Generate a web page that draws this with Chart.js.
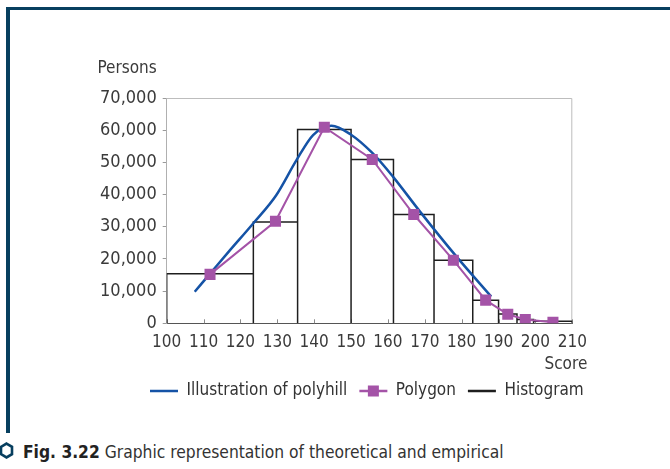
<!DOCTYPE html>
<html>
<head>
<meta charset="utf-8">
<script src="https://cdn.jsdelivr.net/npm/chart.js@4.4.1/dist/chart.umd.min.js"></script>
<style>
  html, body { margin: 0; padding: 0; background: #fff; width: 670px; height: 469px; overflow: hidden; }
  #frameTop { position: absolute; left: 6px; top: 7px; width: 664px; height: 3px; background: #073f5f; }
  #frameLeft { position: absolute; left: 6px; top: 7px; width: 4px; height: 426px; background: #073f5f; }
  #chartBox { position: absolute; left: 0; top: 0; }
  #hex { position: absolute; left: 0; top: 442px; }
  .caption { position: absolute; left: 23px; top: 442px; font-family: 'DejaVu Sans Condensed', 'DejaVu Sans', sans-serif;
             font-size: 17.3px; color: #333; white-space: nowrap; }
  .caption b { color: #222; }
</style>
</head>
<body>
<div id="frameTop"></div>
<div id="frameLeft"></div>
<canvas id="chartBox" width="670" height="420"></canvas>
<svg id="hex" width="14" height="18" viewBox="0 0 14 18">
  <polygon points="6.5,1.6 12,4.8 12,12.2 6.5,15.4 1,12.2 1,4.8" fill="none" stroke="#073f5f" stroke-width="2.6"/>
</svg>
<div class="caption"><b>Fig. 3.22</b> Graphic representation of theoretical and empirical</div>

<script>
const FONT = "'DejaVu Sans Condensed', 'DejaVu Sans', sans-serif";

// histogram: bin edges (score) and persons per bin
const binEdges = [100, 123.5, 135.5, 150, 161.5, 172.5, 183, 190, 195, 199.5, 210];
const histCounts = [15400, 31500, 60200, 50900, 33800, 19600, 7200, 2900, 1200, 600];

// frequency polygon over the bin midpoints
const polygonScores = [111.75, 129.5, 142.75, 155.75, 167, 177.75, 186.5, 192.5, 197.25, 204.75];
const polygonPersons = [15200, 31700, 60900, 50900, 33800, 19600, 7200, 2800, 1200, 300];

// smoothed theoretical curve
const polyhillScores = [107.6, 111.8, 117, 123.5, 129.7, 135.2, 139.7, 144.7, 150, 155.7, 161.4, 168.7, 178.6, 188];
const polyhillPersons = [9800, 15500, 22500, 31100, 39800, 50700, 58500, 61400, 58600, 53000, 45500, 34700, 20700, 8300];

const seriesNames = ['Illustration of polyhill', 'Polygon', 'Histogram'];
const xTitle = 'Score';
const yTitle = 'Persons';

const blue = '#1553a6';
const purple = '#a453a7';
const black = '#1e1e1e';

// outline of each bar as one path: up, across, down
const histOutline = [];
histCounts.forEach((n, i) => {
    histOutline.push(
        { x: binEdges[i], y: 0 },
        { x: binEdges[i], y: n },
        { x: binEdges[i + 1], y: n },
        { x: binEdges[i + 1], y: 0 }
    );
});

const toPoints = (xs, ys) => xs.map((x, i) => ({ x, y: ys[i] }));

const extras = {
    id: 'extras',
    afterLayout(chart) {
        // legend row starts at x = 150
        const lg = chart.legend;
        const pad = lg.options.labels.padding;
        const firstX = (lg.left + pad + lg.right - lg.lineWidths[0]) / 2;
        const shift = 150 - firstX;
        lg.left += shift;
        lg.right += shift;
    },
    beforeDatasetsDraw(chart) {
        const { ctx, chartArea: a, scales } = chart;
        ctx.save();
        ctx.strokeStyle = '#bdbdbd';
        ctx.lineWidth = 1;
        ctx.beginPath();
        ctx.moveTo(a.left, a.top + 0.5);
        ctx.lineTo(a.right - 0.5, a.top + 0.5);
        ctx.lineTo(a.right - 0.5, a.bottom);
        ctx.stroke();
        // short inward ticks on the score axis
        ctx.strokeStyle = '#8a8a8a';
        ctx.beginPath();
        scales.x.ticks.forEach(t => {
            const px = Math.round(scales.x.getPixelForValue(t.value)) + 0.5;
            ctx.moveTo(px, a.bottom);
            ctx.lineTo(px, a.bottom - 4);
        });
        ctx.stroke();
        ctx.restore();
    },
    afterDraw(chart) {
        const { ctx, chartArea: a } = chart;
        ctx.save();
        ctx.fillStyle = '#3a3a3a';
        ctx.font = '17px ' + FONT;
        ctx.textAlign = 'right';
        ctx.textBaseline = 'middle';
        ctx.fillText(yTitle, a.left - 10, 69);
        ctx.fillText(xTitle, a.right + 15, 365);
        // square marker on the polygon legend line
        const lg = chart.legend;
        const idx = lg.legendItems.findIndex(it => it.text === seriesNames[1]);
        const hb = lg.legendHitBoxes[idx];
        if (hb) {
            ctx.fillStyle = purple;
            ctx.fillRect(hb.left + 14 - 5.5, hb.top + hb.height / 2 - 5.5, 11, 11);
        }
        ctx.restore();
    }
};

Chart.defaults.font.family = FONT;
Chart.defaults.font.size = 17;
Chart.defaults.color = '#3a3a3a';

new Chart(document.getElementById('chartBox'), {
    type: 'line',
    data: {
        datasets: [
            {
                label: seriesNames[0],
                data: toPoints(polyhillScores, polyhillPersons),
                borderColor: blue,
                backgroundColor: blue,
                borderWidth: 2.5,
                pointRadius: 0,
                cubicInterpolationMode: 'monotone',
                order: 1
            },
            {
                label: seriesNames[1],
                data: toPoints(polygonScores, polygonPersons),
                borderColor: purple,
                backgroundColor: purple,
                borderWidth: 2,
                pointStyle: 'rect',
                pointRadius: 7.8,
                pointBorderWidth: 0,
                pointBackgroundColor: purple,
                tension: 0,
                order: 0
            },
            {
                label: seriesNames[2],
                data: histOutline,
                borderColor: black,
                backgroundColor: black,
                borderWidth: 1.5,
                pointRadius: 0,
                tension: 0,
                order: 2
            }
        ]
    },
    options: {
        responsive: false,
        animation: false,
        devicePixelRatio: 1,
        layout: { padding: { top: 98, left: 0, right: 97.7, bottom: 10.5 } },
        scales: {
            x: {
                type: 'linear',
                min: 100,
                max: 210,
                ticks: { stepSize: 10, padding: 9, maxRotation: 0, autoSkip: false, font: { size: 17 } },
                grid: { display: false, drawTicks: false },
                border: { color: '#555', width: 1 },
                afterFit(scale) { scale.height = 47.2; }
            },
            y: {
                min: 0,
                max: 70000,
                ticks: { stepSize: 10000, padding: 6, font: { size: 18 }, callback: v => v.toLocaleString('en-US') },
                grid: { drawOnChartArea: false, drawTicks: true, tickLength: 4, color: '#9a9a9a' },
                border: { color: '#b0b0b0', width: 1 },
                afterFit(scale) { scale.width = 166.7; }
            }
        },
        plugins: {
            tooltip: { enabled: false },
            legend: {
                position: 'bottom',
                labels: {
                    usePointStyle: true,
                    pointStyleWidth: 28,
                    padding: 12,
                    color: '#333',
                    font: { size: 17 },
                    generateLabels(chart) {
                        const items = Chart.defaults.plugins.legend.labels.generateLabels(chart);
                        items.forEach(it => { it.pointStyle = 'line'; it.lineWidth = 2.5; });
                        return items.sort((p, q) => p.datasetIndex - q.datasetIndex);
                    }
                }
            }
        }
    },
    plugins: [extras]
});
</script>
</body>
</html>
